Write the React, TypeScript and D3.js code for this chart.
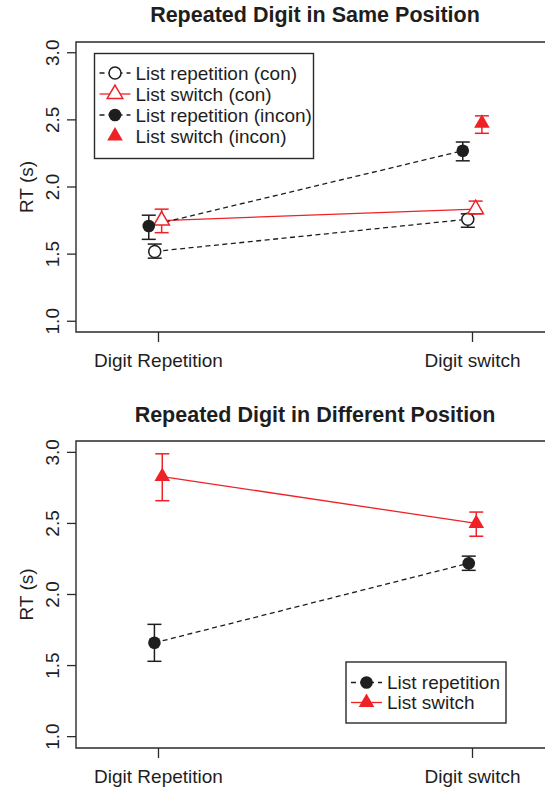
import React from 'react';
import * as d3 from 'd3';

const categories = ['Digit Repetition', 'Digit switch'];
const yTicks = [1.0, 1.5, 2.0, 2.5, 3.0];

// Repeated digit in same position
const sameRepConX = [0.988, 1.985];
const sameRepConMean = [1.52, 1.76];
const sameRepConLo = [1.47, 1.70];
const sameRepConHi = [1.575, 1.80];

const sameSwConX = [1.01, 2.01];
const sameSwConMean = [1.75, 1.835];
const sameSwConLo = [1.66, 1.80];
const sameSwConHi = [1.835, 1.895];

const sameRepInconX = [0.969, 1.969];
const sameRepInconMean = [1.71, 2.27];
const sameRepInconLo = [1.61, 2.195];
const sameRepInconHi = [1.79, 2.335];

const sameSwInconX = [2.03];
const sameSwInconMean = [2.475];
const sameSwInconLo = [2.40];
const sameSwInconHi = [2.53];

// Repeated digit in different position
const diffRepX = [0.987, 1.988];
const diffRepMean = [1.66, 2.22];
const diffRepLo = [1.53, 2.17];
const diffRepHi = [1.79, 2.27];

const diffSwX = [1.012, 2.012];
const diffSwMean = [2.83, 2.50];
const diffSwLo = [2.66, 2.41];
const diffSwHi = [2.99, 2.58];

const RED = '#ee2226';
const BLACK = '#1e1e1e';
const AXIS = '#2a2a2a';
const FONT = '"Liberation Sans", Arial, Helvetica, sans-serif';

type Marker = 'openCircle' | 'filledCircle' | 'openTri' | 'filledTri';

interface Series {
  name: string;
  color: string;
  dash: string | null;
  marker: Marker;
  line: boolean;
  x: number[];
  mean: number[];
  lo: number[];
  hi: number[];
}

const sameSeries: Series[] = [
  { name: 'List repetition (con)', color: BLACK, dash: '5,3.5', marker: 'openCircle', line: true, x: sameRepConX, mean: sameRepConMean, lo: sameRepConLo, hi: sameRepConHi },
  { name: 'List switch (con)', color: RED, dash: null, marker: 'openTri', line: true, x: sameSwConX, mean: sameSwConMean, lo: sameSwConLo, hi: sameSwConHi },
  { name: 'List repetition (incon)', color: BLACK, dash: '5,3.5', marker: 'filledCircle', line: true, x: sameRepInconX, mean: sameRepInconMean, lo: sameRepInconLo, hi: sameRepInconHi },
  { name: 'List switch (incon)', color: RED, dash: null, marker: 'filledTri', line: false, x: sameSwInconX, mean: sameSwInconMean, lo: sameSwInconLo, hi: sameSwInconHi },
];

const diffSeries: Series[] = [
  { name: 'List repetition', color: BLACK, dash: '5,3.5', marker: 'filledCircle', line: true, x: diffRepX, mean: diffRepMean, lo: diffRepLo, hi: diffRepHi },
  { name: 'List switch', color: RED, dash: null, marker: 'filledTri', line: true, x: diffSwX, mean: diffSwMean, lo: diffSwLo, hi: diffSwHi },
];

const triPath = d3.symbol(d3.symbolTriangle, 105)() as string;

const MarkerShape = ({ m, color, cx, cy }: { m: Marker; color: string; cx: number; cy: number }) => {
  if (m === 'openCircle')
    return <circle cx={cx} cy={cy} r={6} fill="#fff" stroke={color} strokeWidth={1.5} />;
  if (m === 'filledCircle') return <circle cx={cx} cy={cy} r={6.3} fill={color} />;
  if (m === 'openTri')
    return <path d={triPath} transform={`translate(${cx},${cy})`} fill="#fff" stroke={color} strokeWidth={1.5} />;
  return <path d={triPath} transform={`translate(${cx},${cy})`} fill={color} />;
};

const x = d3.scaleLinear().domain([1, 2]).range([158.5, 472.5]);
const boxLeft = 76;
const boxRight = 560;
const FS = 19;

interface PanelProps {
  title: string;
  titleY: number;
  top: number;
  bottom: number;
  series: Series[];
  legend: { x: number; y: number; w: number; h: number; rowY: number; rowH: number };
}

const Panel = ({ title, titleY, top, bottom, series, legend }: PanelProps) => {
  const y = d3.scaleLinear().domain([0.92, 3.08]).range([bottom, top]);
  const line = d3.line<[number, number]>().x((d) => x(d[0])).y((d) => y(d[1]));
  const mid = (top + bottom) / 2;
  return (
    <g>
      <text x={315} y={titleY} textAnchor="middle" fontSize={21.5} fontWeight="bold" fill={BLACK}>
        {title}
      </text>
      <path d={`M${boxRight},${top}H${boxLeft}V${bottom}H${boxRight}`} fill="none" stroke={AXIS} strokeWidth={1.4} />
      {yTicks.map((t) => (
        <g key={t}>
          <line x1={boxLeft - 9} x2={boxLeft} y1={y(t)} y2={y(t)} stroke={AXIS} strokeWidth={1.3} />
          <text transform={`translate(59,${y(t)}) rotate(-90)`} textAnchor="middle" fontSize={FS} fill={BLACK}>
            {t.toFixed(1)}
          </text>
        </g>
      ))}
      <text transform={`translate(33,${mid}) rotate(-90)`} textAnchor="middle" fontSize={FS} fill={BLACK}>
        RT (s)
      </text>
      {categories.map((c, i) => (
        <g key={c}>
          <line x1={x(i + 1)} x2={x(i + 1)} y1={bottom} y2={bottom + 10} stroke={AXIS} strokeWidth={1.3} />
          <text x={x(i + 1)} y={bottom + 35} textAnchor="middle" fontSize={FS} fill={BLACK}>
            {c}
          </text>
        </g>
      ))}
      {series.map((s) =>
        s.line ? (
          <path
            key={s.name + 'l'}
            d={line(s.x.map((v, i) => [v, s.mean[i]] as [number, number])) as string}
            fill="none"
            stroke={s.color}
            strokeWidth={1.3}
            strokeDasharray={s.dash ?? undefined}
          />
        ) : null
      )}
      {series.map((s) => (
        <g key={s.name}>
          {s.x.map((v, i) => (
            <g key={i} stroke={s.color} strokeWidth={1.5}>
              <line x1={x(v)} x2={x(v)} y1={y(s.lo[i])} y2={y(s.hi[i])} />
              <line x1={x(v) - 7} x2={x(v) + 7} y1={y(s.lo[i])} y2={y(s.lo[i])} />
              <line x1={x(v) - 7} x2={x(v) + 7} y1={y(s.hi[i])} y2={y(s.hi[i])} />
            </g>
          ))}
          {s.x.map((v, i) => (
            <MarkerShape key={'m' + i} m={s.marker} color={s.color} cx={x(v)} cy={y(s.mean[i])} />
          ))}
        </g>
      ))}
      <rect x={legend.x} y={legend.y} width={legend.w} height={legend.h} fill="#fff" stroke={AXIS} strokeWidth={1.4} />
      {series.map((s, i) => {
        const ry = legend.rowY + i * legend.rowH;
        return (
          <g key={'lg' + s.name}>
            {s.line && (
              <line
                x1={legend.x + 5}
                x2={legend.x + 36}
                y1={ry}
                y2={ry}
                stroke={s.color}
                strokeWidth={1.3}
                strokeDasharray={s.dash ? '5,4' : undefined}
              />
            )}
            <MarkerShape m={s.marker} color={s.color} cx={legend.x + 20.5} cy={ry} />
            <text x={legend.x + 41} y={ry + 6.5} fontSize={FS} fill={BLACK}>
              {s.name}
            </text>
          </g>
        );
      })}
    </g>
  );
};

export default function App() {
  return (
    <svg
      width={545}
      height={787}
      style={{ position: 'absolute', left: 0, top: 0, background: '#fff', fontFamily: FONT }}
    >
      <rect width={545} height={787} fill="#fff" />
      <Panel
        title="Repeated Digit in Same Position"
        titleY={22}
        top={42}
        bottom={332}
        series={sameSeries}
        legend={{ x: 94.5, y: 53.5, w: 219, h: 105, rowY: 73, rowH: 21 }}
      />
      <Panel
        title="Repeated Digit in Different Position"
        titleY={422}
        top={441}
        bottom={748}
        series={diffSeries}
        legend={{ x: 346, y: 662, w: 160, h: 61, rowY: 682.5, rowH: 20 }}
      />
    </svg>
  );
}
